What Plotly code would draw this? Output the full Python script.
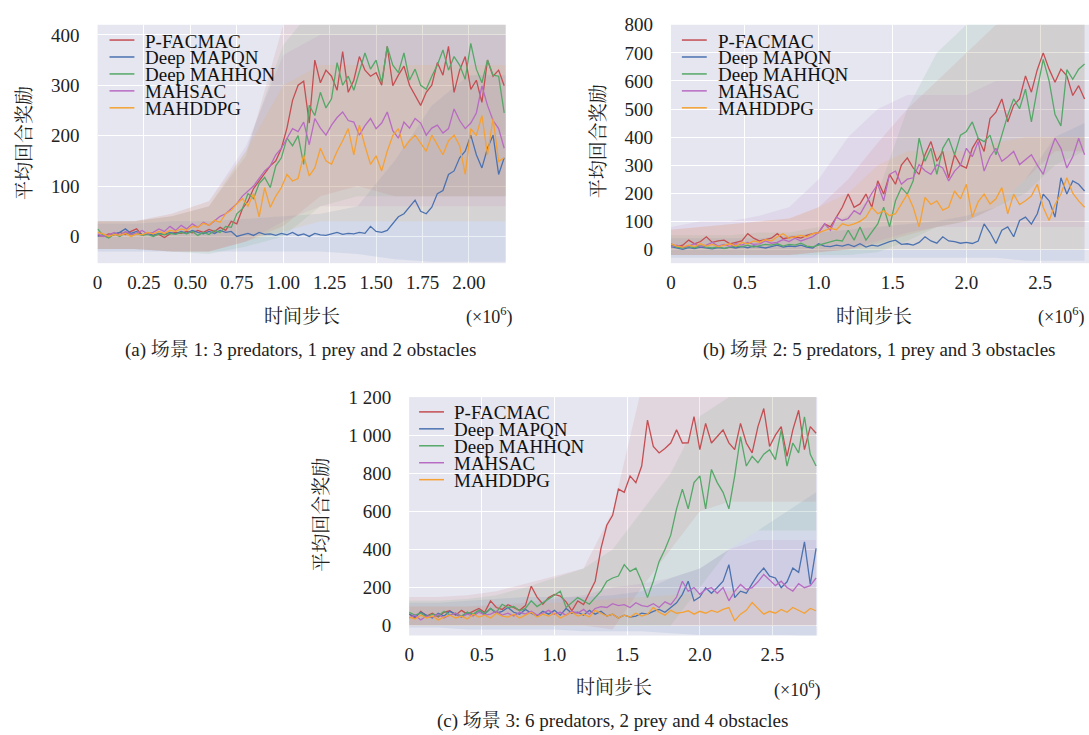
import plotly.graph_objects as go

W, H = 1089, 735
FONT = "Liberation Serif, Noto Serif CJK SC, Noto Sans CJK SC, serif"

names = ["P-FACMAC", "Deep MAPQN", "Deep MAHHQN", "MAHSAC", "MAHDDPG"]
colors = ["#C44E52", "#4C72B0", "#55A868", "#B86BC2", "#F5A133"]
rgb = [(196, 78, 82), (76, 114, 176), (85, 168, 104), (184, 107, 194), (245, 161, 51)]

# ---------------- Panel (a): scene 1 ----------------
x_a = [round(0.03 * i, 2) for i in range(74)]
a_red = [2, 0, 5, 3, 8, 4, 10, 15, 3, 6, 2, 4, -2, 5, 8, 6, 10, 7, 12, 8, 14, 10, 18, 12, 30, 25, 55, 70, 95, 110,
         125, 140, 150, 175, 215, 270, 300, 308, 225, 350, 305, 330, 318, 290, 367, 286, 310, 357, 330, 318, 325, 300,
         377, 299, 320, 338, 300, 280, 260, 286, 300, 345, 320, 377, 286, 330, 357, 292, 310, 266, 350, 318, 330, 299]
a_blue = [0, 3, -2, 5, 8, 15, 6, 10, 3, 5, 2, 6, 4, 8, 5, 10, 6, 12, 8, 5, 10, 6, 12, 8, 10, 0, 3, 6, 2, 8, 4, 5, 2,
          6, 3, 8, 2, 5, 0, 6, 3, 2, 5, 8, 4, 6, 5, 8, 6, 20, 10, 8, 12, 26, 39, 45, 58, 72, 50, 45, 58, 85, 91, 123,
          130, 156, 169, 201, 162, 136, 175, 201, 123, 156]
a_green = [15, 2, -3, 5, 0, 8, 3, 6, 2, 4, 0, 5, 3, 6, 4, 8, 5, 10, 2, 8, 4, 12, 8, 20, 18, 45, 55, 85, 75, 105, 117,
           97, 140, 156, 195, 180, 200, 143, 260, 240, 286, 255, 273, 345, 300, 318, 290, 325, 364, 332, 350, 305, 377,
           340, 325, 364, 310, 332, 300, 292, 318, 340, 370, 330, 357, 340, 312, 383, 332, 305, 350, 320, 318, 245]
a_purple = [5, 0, 3, 8, 2, 10, 4, 6, 12, 5, 8, 15, 10, 20, 12, 22, 15, 25, 18, 28, 22, 32, 40, 45, 55, 65, 80, 90, 100,
            115, 130, 140, 162, 175, 195, 214, 208, 227, 182, 234, 215, 201, 221, 236, 247, 230, 227, 201, 220, 234,
            214, 225, 247, 210, 195, 227, 215, 234, 225, 201, 215, 221, 205, 214, 253, 230, 214, 225, 245, 299, 260,
            230, 214, 175]
a_orange = [8, 5, 0, 4, 2, 6, 0, 5, 3, 8, 5, 10, 6, 12, 10, 15, 12, 20, 18, 26, 22, 32, 28, 45, 52, 65, 75, 60, 85, 39,
            97, 58, 80, 97, 123, 110, 115, 162, 120, 136, 175, 150, 143, 169, 190, 214, 162, 221, 180, 143, 160, 130,
            169, 200, 214, 175, 190, 201, 185, 169, 201, 180, 162, 190, 201, 180, 123, 214, 200, 240, 162, 234, 149, 156]

xb_a = [0, 0.2, 0.4, 0.6, 0.8, 1.0, 1.2, 1.4, 1.6, 1.8, 2.0, 2.2]
a_red_lo = [-25, -25, -30, -30, -10, 20, 80, 100, 80, 80, 80, 80]
a_red_hi = [30, 30, 40, 60, 160, 420, 480, 480, 480, 480, 480, 480]
a_blue_lo = [-30, -30, -30, -30, -30, -30, -30, -35, -45, -50, -50, -50]
a_blue_hi = [25, 25, 30, 30, 35, 40, 45, 60, 150, 260, 320, 320]
a_green_lo = [-25, -25, -30, -35, -20, 0, 60, 80, 80, 80, 80, 80]
a_green_hi = [30, 30, 40, 60, 170, 380, 470, 480, 480, 480, 480, 480]
a_purple_lo = [-25, -25, -30, -30, -10, 30, 60, 60, 60, 60, 60, 60]
a_purple_hi = [30, 30, 45, 70, 180, 360, 400, 400, 400, 400, 400, 400]
a_orange_lo = [-25, -25, -30, -30, -10, 10, 30, 30, 30, 30, 30, 30]
a_orange_hi = [30, 30, 45, 70, 170, 300, 340, 340, 340, 340, 340, 340]

# ---------------- Panel (b): scene 2 ----------------
x_b = [round(0.04 * i, 2) for i in range(71)]
b_red = [20, 10, 15, 33, 20, 28, 45, 25, 30, 33, 20, 25, 30, 56, 40, 30, 35, 40, 56, 38, 42, 45, 40, 50, 56, 60, 91, 80,
         115, 150, 197, 150, 162, 197, 150, 244, 197, 267, 232, 300, 326, 290, 267, 337, 384, 314, 349, 255, 337, 300,
         290, 360, 396, 349, 466, 489, 536, 454, 513, 536, 618, 560, 640, 700, 642, 595, 642, 618, 548, 583, 536]
b_blue = [10, 5, 0, 6, 3, 8, 5, 2, 6, 4, 8, 5, 10, 6, 12, 8, 5, 10, 15, 8, 12, 10, 15, 8, 5, 20, 12, 10, 15, 12, 18, 10,
          20, 8, 15, 12, 20, 28, 33, 18, 20, 15, 25, 45, 30, 22, 45, 30, 28, 22, 25, 21, 30, 91, 60, 21, 68, 80, 45, 103,
          115, 90, 127, 197, 173, 115, 255, 197, 244, 232, 208]
b_green = [15, 8, 5, 10, 6, 12, 8, 5, 10, 3, 8, 12, 10, 15, 8, 12, 18, 15, 20, 12, 18, 15, 22, 12, 9, 15, 21, 25, 33,
           30, 68, 33, 80, 33, 60, 91, 150, 80, 173, 220, 197, 244, 396, 314, 360, 267, 360, 396, 337, 407, 420, 454,
           396, 384, 407, 337, 407, 478, 536, 501, 571, 454, 571, 677, 600, 480, 440, 640, 606, 642, 660]
b_purple = [10, 15, 8, 12, 20, 10, 15, 25, 12, 18, 10, 20, 15, 25, 18, 20, 30, 22, 25, 35, 28, 40, 30, 38, 45, 60, 91,
            68, 115, 103, 110, 138, 125, 162, 200, 232, 173, 267, 279, 232, 250, 255, 302, 280, 267, 302, 290, 244, 279,
            300, 360, 330, 384, 279, 330, 360, 314, 330, 349, 302, 320, 337, 300, 267, 337, 396, 360, 290, 330, 396, 337]
b_orange = [20, 12, 8, 15, 10, 20, 12, 18, 10, 15, 20, 12, 25, 20, 30, 25, 35, 30, 45, 56, 40, 45, 50, 45, 56, 60, 68,
            75, 70, 91, 85, 91, 100, 115, 150, 127, 138, 120, 127, 160, 197, 150, 80, 185, 160, 173, 140, 150, 208, 180,
            232, 115, 170, 197, 162, 180, 220, 127, 197, 160, 173, 190, 232, 150, 103, 160, 197, 255, 200, 173, 150]

xb_b = [0, 0.2, 0.4, 0.6, 0.8, 1.0, 1.2, 1.4, 1.6, 1.8, 2.0, 2.2, 2.4, 2.6, 2.8]
b_red_lo = [-20, -20, -20, -20, -20, -10, 0, 20, 50, 80, 100, 150, 250, 350, 350]
b_red_hi = [70, 80, 90, 100, 110, 150, 250, 380, 500, 600, 700, 800, 850, 900, 900]
b_blue_lo = [-30, -30, -30, -30, -30, -30, -30, -30, -30, -30, -30, -30, -40, -40, -40]
b_blue_hi = [40, 40, 40, 40, 50, 60, 70, 80, 90, 100, 120, 150, 250, 400, 450]
b_green_lo = [-20, -20, -20, -20, -20, -20, -20, -10, 30, 80, 100, 150, 200, 300, 350]
b_green_hi = [50, 50, 50, 60, 60, 80, 120, 200, 500, 700, 800, 850, 900, 900, 950]
b_purple_lo = [-20, -20, -20, -20, -20, -10, 0, 30, 60, 80, 80, 80, 80, 80, 80]
b_purple_hi = [80, 100, 100, 120, 150, 250, 400, 500, 550, 550, 550, 600, 600, 600, 600]
b_orange_lo = [-20, -20, -20, -20, -20, -10, 0, 0, 0, 0, 0, 0, 0, 0, 0]
b_orange_hi = [70, 80, 90, 100, 110, 150, 200, 300, 350, 350, 350, 380, 400, 400, 400]

# ---------------- Panel (c): scene 3 ----------------
x_c = [round(0.04 * i, 2) for i in range(71)]
c_red = [60, 40, 75, 50, 65, 45, 70, 78, 55, 80, 60, 75, 90, 70, 130, 95, 85, 110, 95, 80, 105, 207, 150, 112, 147, 164,
         155, 125, 78, 130, 110, 173, 233, 406, 527, 579, 717, 700, 786, 751, 838, 1079, 941, 907, 930, 959, 1028, 959,
         960, 1097, 924, 1062, 959, 993, 1028, 960, 924, 1062, 959, 907, 1045, 1140, 941, 1000, 1045, 889, 1028, 1131,
         924, 1045, 1010]
c_blue = [60, 45, 70, 55, 40, 65, 50, 75, 60, 45, 70, 55, 80, 60, 90, 65, 75, 95, 70, 60, 85, 65, 50, 75, 60, 80, 55,
          90, 65, 70, 55, 80, 60, 75, 50, 60, 40, 55, 45, 50, 65, 60, 75, 85, 70, 95, 120, 164, 233, 130, 150, 199, 170,
          200, 233, 320, 147, 181, 170, 220, 268, 302, 260, 250, 199, 230, 302, 280, 440, 216, 406]
c_green = [70, 55, 65, 45, 60, 50, 75, 55, 65, 50, 70, 60, 80, 65, 90, 70, 112, 95, 100, 78, 90, 130, 100, 120, 140, 164,
           181, 95, 120, 147, 130, 112, 147, 181, 233, 250, 260, 320, 285, 302, 233, 147, 233, 337, 400, 475, 613, 717,
           613, 751, 786, 613, 820, 751, 700, 613, 786, 993, 838, 889, 855, 900, 924, 872, 1028, 838, 959, 907, 1097,
           900, 838]
c_purple = [40, 55, 30, 50, 45, 60, 40, 55, 65, 45, 60, 50, 70, 55, 60, 75, 55, 65, 50, 70, 60, 75, 55, 65, 80, 60, 70,
            55, 75, 65, 85, 60, 90, 100, 95, 115, 105, 110, 95, 120, 105, 100, 115, 95, 125, 110, 150, 233, 180, 200, 164,
            190, 199, 170, 200, 130, 180, 216, 190, 199, 230, 268, 240, 210, 233, 200, 181, 220, 199, 210, 250]
c_orange = [45, 35, 55, 40, 50, 30, 45, 55, 40, 50, 35, 60, 45, 55, 40, 65, 50, 45, 60, 40, 55, 70, 45, 60, 50, 65, 40,
            55, 70, 50, 60, 45, 80, 65, 50, 60, 40, 55, 45, 65, 50, 60, 95, 70, 55, 80, 65, 70, 78, 60, 75, 65, 80, 70, 85,
            95, 26, 60, 80, 121, 90, 60, 75, 65, 85, 70, 95, 80, 65, 90, 78]

xb_c = [0, 0.2, 0.4, 0.6, 0.8, 1.0, 1.2, 1.4, 1.6, 1.8, 2.0, 2.2, 2.4, 2.6, 2.8]
c_red_lo = [0, 0, 0, 0, 0, 0, 0, -20, 200, 400, 600, 650, 650, 650, 650]
c_red_hi = [150, 150, 160, 180, 220, 260, 300, 600, 1250, 1300, 1300, 1300, 1300, 1300, 1300]
c_blue_lo = [-10, -10, -20, -20, -20, -20, -30, -30, -30, -40, -50, -50, -50, -50, -60]
c_blue_hi = [120, 120, 130, 140, 150, 150, 150, 160, 180, 250, 300, 400, 500, 600, 700]
c_green_lo = [0, 0, 0, 0, 0, 0, 0, 0, 0, 0, 200, 400, 500, 500, 500]
c_green_hi = [130, 130, 140, 160, 200, 250, 300, 400, 600, 800, 1100, 1200, 1300, 1300, 1300]
c_purple_lo = [0, 0, 0, 0, 0, 0, 0, 0, 0, 0, 0, 0, 0, 0, 0]
c_purple_hi = [100, 100, 100, 110, 120, 140, 160, 200, 220, 250, 300, 400, 450, 450, 450]
c_orange_lo = [0, 0, 0, 0, 0, 0, 0, 0, 0, 0, 0, 0, 0, 0, 0]
c_orange_hi = [100, 100, 100, 100, 110, 120, 130, 140, 150, 160, 170, 180, 200, 200, 200]

# ticks
a_xticks = [0, 0.25, 0.5, 0.75, 1.0, 1.25, 1.5, 1.75, 2.0]
a_xticktext = ["0", "0.25", "0.50", "0.75", "1.00", "1.25", "1.50", "1.75", "2.00"]
a_yticks = [0, 100, 200, 300, 400]
bc_xticks = [0, 0.5, 1.0, 1.5, 2.0, 2.5]
bc_xticktext = ["0", "0.5", "1.0", "1.5", "2.0", "2.5"]
b_yticks = [0, 100, 200, 300, 400, 500, 600, 700, 800]
c_yticks = [0, 200, 400, 600, 800, 1000, 1200]
c_yticktext = ["0", "200", "400", "600", "800", "1 000", "1 200"]

ytitle = "平均回合奖励"
xtitle = "时间步长"
captions = ["(a) 场景 1: 3 predators, 1 prey and 2 obstacles",
            "(b) 场景 2: 5 predators, 1 prey and 3 obstacles",
            "(c) 场景 3: 6 predators, 2 prey and 4 obstacles"]

panels = [
    dict(ax="", x=x_a, ys=[a_red, a_blue, a_green, a_purple, a_orange], xb=xb_a,
         bands=[(a_red_lo, a_red_hi), (a_blue_lo, a_blue_hi), (a_green_lo, a_green_hi),
                (a_purple_lo, a_purple_hi), (a_orange_lo, a_orange_hi)]),
    dict(ax="2", x=x_b, ys=[b_red, b_blue, b_green, b_purple, b_orange], xb=xb_b,
         bands=[(b_red_lo, b_red_hi), (b_blue_lo, b_blue_hi), (b_green_lo, b_green_hi),
                (b_purple_lo, b_purple_hi), (b_orange_lo, b_orange_hi)]),
    dict(ax="3", x=x_c, ys=[c_red, c_blue, c_green, c_purple, c_orange], xb=xb_c,
         bands=[(c_red_lo, c_red_hi), (c_blue_lo, c_blue_hi), (c_green_lo, c_green_hi),
                (c_purple_lo, c_purple_hi), (c_orange_lo, c_orange_hi)]),
]

fig = go.Figure()
for p in panels:
    xa, ya = "x" + p["ax"], "y" + p["ax"]
    for k, (lo, hi) in enumerate(p["bands"]):
        r, g, b = rgb[k]
        fig.add_trace(go.Scatter(
            x=list(p["xb"]) + list(p["xb"])[::-1], y=list(hi) + list(lo)[::-1],
            fill="toself", fillcolor=f"rgba({r},{g},{b},0.11)", line=dict(width=0),
            mode="lines", hoverinfo="skip", showlegend=False, xaxis=xa, yaxis=ya))
    for k, y in enumerate(p["ys"]):
        fig.add_trace(go.Scatter(x=p["x"], y=y, mode="lines", name=names[k],
                                 line=dict(color=colors[k], width=1.3),
                                 showlegend=False, xaxis=xa, yaxis=ya))


def px(v):
    return v / W


def py(v):
    return 1 - v / H


BG = "#E5E6F0"
tickfont = dict(family=FONT, size=19, color="#222222")


def xax(dom, rng, tv, tt):
    return dict(domain=dom, range=rng, tickvals=tv, ticktext=tt, showgrid=True, gridcolor="white",
                gridwidth=1.2, zeroline=False, showline=False, ticks="", tickfont=tickfont,
                ticklabelstandoff=6)


def yax(dom, rng, tv, tt, anchor):
    return dict(domain=dom, range=rng, tickvals=tv, ticktext=tt, showgrid=True, gridcolor="white",
                gridwidth=1.2, zeroline=False, showline=False, ticks="", tickfont=tickfont,
                anchor=anchor, ticklabelstandoff=17)


dom_a_x = [px(93), px(503)]
dom_b_x = [px(669), 1.0]
dom_c_x = [px(406), px(816)]
dom_ab_y = [py(257), py(15)]
dom_c_y = [py(635), py(393)]

fig.update_layout(
    width=W, height=H, margin=dict(l=0, r=0, t=0, b=0),
    paper_bgcolor="white", plot_bgcolor=BG, showlegend=False,
    xaxis=xax(dom_a_x, [0, 2.198], a_xticks, a_xticktext) | dict(anchor="y"),
    yaxis=yax(dom_ab_y, [-53, 420], a_yticks, [str(v) for v in a_yticks], "x"),
    xaxis2=xax(dom_b_x, [0, 2.83], bc_xticks, bc_xticktext) | dict(anchor="y2"),
    yaxis2=yax(dom_ab_y, [-49, 800], b_yticks, [str(v) for v in b_yticks], "x2"),
    xaxis3=xax(dom_c_x, [0, 2.808], bc_xticks, bc_xticktext) | dict(anchor="y3"),
    yaxis3=yax(dom_c_y, [-52, 1200], c_yticks, c_yticktext, "x3"),
)

anns = []
shapes = []
# legends (manual, tight spacing like the original)
legend_pos = [(105, 130, 139, 30.5), (680, 705, 714, 30.5), (416, 441, 449, 408)]
for (lx0, lx1, tx, y0) in legend_pos:
    for k in range(5):
        yy = y0 + k * 17.2
        shapes.append(dict(type="line", xref="paper", yref="paper", x0=px(lx0), x1=px(lx1),
                           y0=py(yy), y1=py(yy), line=dict(color=colors[k], width=1.5)))
        anns.append(dict(text=names[k], x=px(tx), y=py(yy + 1), xref="paper", yref="paper",
                         xanchor="left", yanchor="middle", showarrow=False,
                         font=dict(family=FONT, size=19, color="#111111")))

labfont = dict(family=FONT, size=19, color="#222222")
# axis titles
for (xc, yc) in [(298, 311), (873, 311), (612, 688)]:
    anns.append(dict(text=xtitle, x=px(xc), y=py(yc), xref="paper", yref="paper", showarrow=False,
                     xanchor="center", yanchor="middle", font=labfont))
for (xr, yc) in [(511, 311), (1086, 311), (821, 689)]:
    anns.append(dict(text="(×10<sup>6</sup>)", x=px(xr), y=py(yc), xref="paper", yref="paper",
                     showarrow=False, xanchor="right", yanchor="middle",
                     font=dict(family=FONT, size=18, color="#222222")))
for (xc, yc) in [(20, 135), (596, 133), (318, 513)]:
    anns.append(dict(text=ytitle, x=px(xc), y=py(yc), xref="paper", yref="paper", showarrow=False,
                     textangle=-90, xanchor="center", yanchor="middle", font=labfont))
for cap, (xc, yc) in zip(captions, [(297, 345), (878, 345), (610, 722)]):
    anns.append(dict(text=cap, x=px(xc), y=py(yc), xref="paper", yref="paper", showarrow=False,
                     xanchor="center", yanchor="middle",
                     font=dict(family=FONT, size=19, color="#222222")))

fig.update_layout(annotations=anns, shapes=shapes)
fig.write_html("out.html", config={"displayModeBar": False},
               post_script="document.body.style.margin='0';document.body.style.padding='0';"
                           "document.body.style.overflow='hidden';")
